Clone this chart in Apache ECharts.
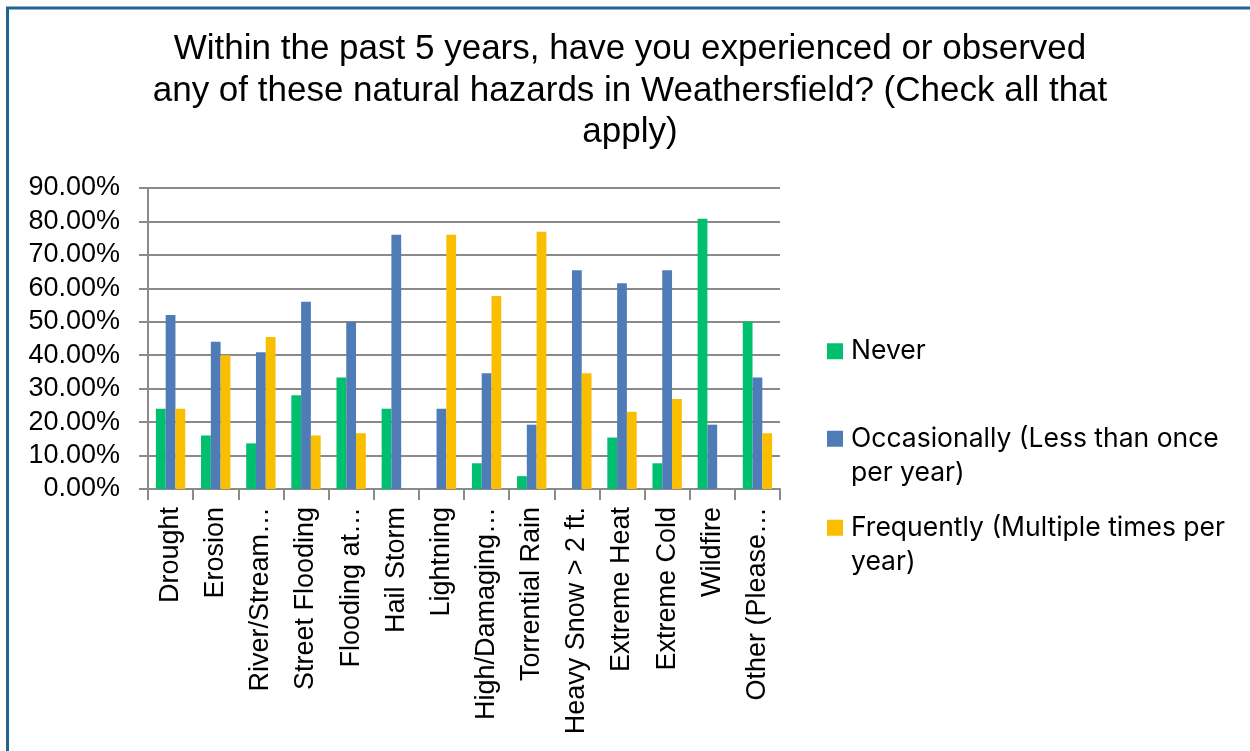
<!DOCTYPE html>
<html>
<head>
<meta charset="utf-8">
<script src="https://cdn.jsdelivr.net/npm/echarts@6/dist/echarts.min.js"></script>
<style>
html,body{margin:0;padding:0;background:#fff;}
#chart{width:1250px;height:751px;}
</style>
</head>
<body>
<div id="chart"></div>
<script>
const categories = ['Drought','Erosion','River/Stream…','Street Flooding','Flooding at…','Hail Storm','Lightning','High/Damaging…','Torrential Rain','Heavy Snow > 2 ft.','Extreme Heat','Extreme Cold','Wildfire','Other (Please…'];
const never = [24, 16, 13.64, 28, 33.33, 24, 0, 7.69, 3.85, 0, 15.38, 7.69, 80.77, 50];
const occasionally = [52, 44, 40.91, 56, 50, 76, 24, 34.62, 19.23, 65.38, 61.54, 65.38, 19.23, 33.33];
const frequently = [24, 40, 45.45, 16, 16.67, 0, 76, 57.69, 76.92, 34.62, 23.08, 26.92, 0, 16.67];
const seriesNames = ['Never', 'Occasionally (Less than once\nper year)', 'Frequently (Multiple times per\nyear)'];
const colors = ['#00BF6F', '#4F7CB7', '#F9BE00'];
const titleText = 'Within the past 5 years, have you experienced or observed\nany of these natural hazards in Weathersfield? (Check all that\napply)';

const chart = echarts.init(document.getElementById('chart'), null, {renderer: 'canvas'});
const legendText = {fontFamily: 'Inter', fontSize: 26.5, color: '#000', lineHeight: 34.5, padding: [0, 0, 0, 3]};
function legendFor(i, top, multi) {
  return {
    data: [seriesNames[i]],
    left: 827, top: top, orient: 'vertical', padding: 0,
    itemWidth: 16, itemHeight: 16, icon: 'rect',
    formatter: multi ? (n => ' \n' + n) : (n => n),
    textStyle: legendText
  };
}
const option = {
  backgroundColor: '#fff',
  animation: false,
  color: colors,
  title: {
    text: titleText,
    left: 630, top: 29, padding: 0,
    textAlign: 'center',
    textStyle: {fontFamily: 'Liberation Sans', fontSize: 35, fontWeight: 'normal', color: '#000', lineHeight: 41.5}
  },
  legend: [legendFor(0, 334, false), legendFor(1, 387, true), legendFor(2, 476, true)],
  grid: {left: 148, right: 470, top: 188, bottom: 262, containLabel: false},
  xAxis: {
    type: 'category', data: categories,
    axisLine: {lineStyle: {color: '#8a8a8a', width: 2}},
    axisTick: {show: true, length: 11, lineStyle: {color: '#8a8a8a', width: 2}, alignWithLabel: false},
    axisLabel: {rotate: 90, interval: 0, margin: 18, fontFamily: 'Liberation Sans', fontSize: 27, color: '#000'},
    splitLine: {show: false}
  },
  yAxis: {
    type: 'value', min: 0, max: 90, interval: 10,
    axisLine: {show: true, lineStyle: {color: '#8a8a8a', width: 2}},
    axisTick: {show: true, length: 9, lineStyle: {color: '#8a8a8a', width: 2}},
    axisLabel: {margin: 28, fontFamily: 'Liberation Sans', fontSize: 27, color: '#000', formatter: v => v.toFixed(2) + '%'},
    splitLine: {show: true, lineStyle: {color: '#8a8a8a', width: 2}}
  },
  series: [
    {name: seriesNames[0], type: 'bar', data: never, barGap: '0%', barCategoryGap: '35%'},
    {name: seriesNames[1], type: 'bar', data: occasionally, barGap: '0%', barCategoryGap: '35%'},
    {name: seriesNames[2], type: 'bar', data: frequently, barGap: '0%', barCategoryGap: '35%'}
  ],
  graphic: [{
    type: 'rect', silent: true, z: 100,
    shape: {x: 7.5, y: 8, width: 1270, height: 770},
    style: {fill: 'none', stroke: '#1F6592', lineWidth: 3}
  }]
};
chart.setOption(option);
</script>
</body>
</html>
